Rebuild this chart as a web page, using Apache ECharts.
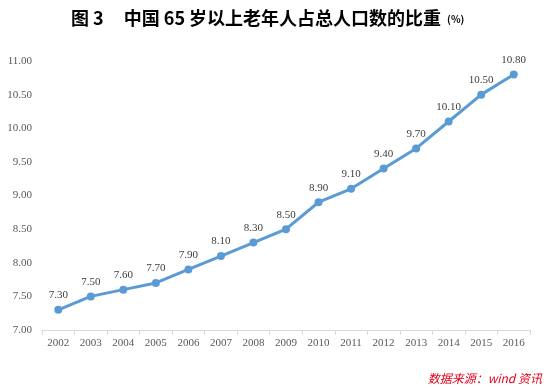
<!DOCTYPE html>
<html><head><meta charset="utf-8">
<script src="https://cdn.jsdelivr.net/npm/echarts@6/dist/echarts.min.js"></script>
<style>html,body{margin:0;padding:0;background:#fff}#c{width:550px;height:388px}</style>
</head><body><div id="c"></div>
<script>
const years = ['2002','2003','2004','2005','2006','2007','2008','2009','2010','2011','2012','2013','2014','2015','2016'];
const ratio = [7.30,7.50,7.60,7.70,7.90,8.10,8.30,8.50,8.90,9.10,9.40,9.70,10.10,10.50,10.80];
const titleHead = '图 3';
const titleMain = '中国 65 岁以上老年人占总人口数的比重';
const sourceText = '数据来源：wind 资讯';
const chart = echarts.init(document.getElementById('c'));
chart.setOption({
  animation:false,
  title:[{
    text:'{a|'+titleHead+'}{s|}{a|'+titleMain+'}{b|(%)}',
    left:66, top:4,
    textStyle:{rich:{
      a:{fontFamily:'Noto Sans CJK SC', fontWeight:'bold', fontSize:18, color:'#000'},
      s:{width:20},
      b:{fontFamily:'Noto Sans CJK SC', fontWeight:'bold', fontSize:10, color:'#000', padding:[3,0,0,6]}
    }}
  },{
    text:sourceText, right:3, top:367,
    textStyle:{fontFamily:'Noto Sans CJK SC', fontStyle:'italic', fontWeight:'normal', fontSize:12, color:'#e8001c'}
  }],
  grid:{left:42, right:20, top:61, bottom:58, containLabel:false},
  xAxis:{type:'category', data:years, boundaryGap:true,
    axisLine:{lineStyle:{color:'#d9d9d9'}},
    axisTick:{show:true, alignWithLabel:false, lineStyle:{color:'#d9d9d9'}},
    axisLabel:{fontFamily:'Liberation Serif', fontSize:11, color:'#595959', margin:8}
  },
  yAxis:{type:'value', min:7, max:11, interval:0.5,
    axisLine:{show:false}, axisTick:{show:false}, splitLine:{show:false},
    axisLabel:{fontFamily:'Liberation Serif', fontSize:11, color:'#595959', margin:10,
      formatter:v=>v.toFixed(2)}
  },
  series:[{type:'line', data:ratio, symbol:'circle', symbolSize:8,
    lineStyle:{color:'#5b9bd5', width:3},
    itemStyle:{color:'#5b9bd5'},
    label:{show:true, position:'top', distance:5, fontFamily:'Liberation Serif', fontSize:11, color:'#404040',
      formatter:p=>p.value.toFixed(2)}
  }]
});
</script></body></html>
